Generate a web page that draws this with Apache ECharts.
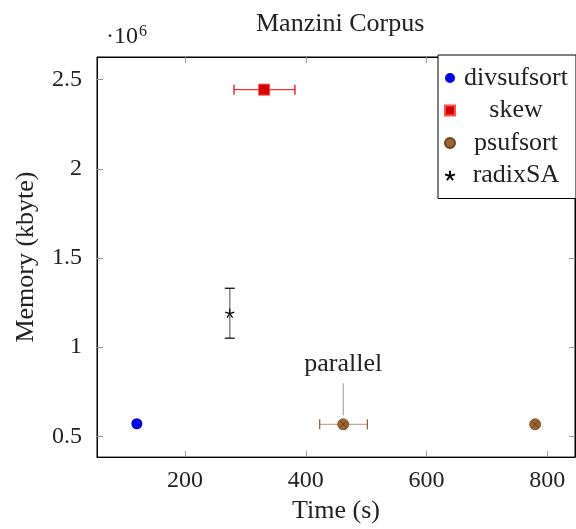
<!DOCTYPE html>
<html>
<head>
<meta charset="utf-8">
<script src="https://cdn.jsdelivr.net/npm/echarts@6/dist/echarts.min.js"></script>
<style type="text/css">
html, body { margin: 0; padding: 0; background: #fff; }
#chart { width: 576px; height: 529px; }
</style>
</head>
<body>
<div id="chart"></div>
<script>
// values (time in s, memory in kbyte)
var legendNames = ['divsufsort', 'skew', 'psufsort', 'radixSA'];
var xTicks = [200, 400, 600, 800];
var yTicks = [500000, 1000000, 1500000, 2000000, 2500000];

var divsufsortData = [[120, 570000]];
var skewData = [[331, 2444000]];
var psufsortData = [[462, 567000], [780, 567000]];
var radixSAData = [[274, 1190000]];

// [x, y, xLow, xHigh, yLow, yHigh]
var skewErr = [[331, 2444000, 281, 382, 2444000, 2444000]];
var psufsortErr = [[462, 567000, 423, 502, 567000, 567000]];
var radixSAErr = [[274, 1190000, 274, 274, 1050000, 1330000]];

var notes = [[462, 567000, 'parallel']];

var font = 'Liberation Serif';
var starPath = 'path://M0,-10L0,0M9.5,-3.1L0,0M5.9,8.1L0,0M-5.9,8.1L0,0M-9.5,-3.1L0,0';

function errSeries(name, data, barColor, capColor) {
    return {
        name: name,
        type: 'custom',
        z: 1,
        silent: true,
        data: data,
        renderItem: function(params, api) {
            var y = api.value(1);
            var kids = [];
            var cap = 5;
            if (api.value(3) > api.value(2)) {
                var a = api.coord([api.value(2), y]);
                var b = api.coord([api.value(3), y]);
                kids.push({ type: 'line', shape: { x1: a[0], y1: a[1], x2: b[0], y2: b[1] }, style: { stroke: barColor, lineWidth: 1.2 } });
                kids.push({ type: 'line', shape: { x1: a[0], y1: a[1] - cap, x2: a[0], y2: a[1] + cap }, style: { stroke: capColor, lineWidth: 1.2 } });
                kids.push({ type: 'line', shape: { x1: b[0], y1: b[1] - cap, x2: b[0], y2: b[1] + cap }, style: { stroke: capColor, lineWidth: 1.2 } });
            }
            if (api.value(5) > api.value(4)) {
                var x = api.value(0);
                var c = api.coord([x, api.value(4)]);
                var d = api.coord([x, api.value(5)]);
                kids.push({ type: 'line', shape: { x1: c[0], y1: c[1], x2: d[0], y2: d[1] }, style: { stroke: barColor, lineWidth: 1.5 } });
                kids.push({ type: 'line', shape: { x1: c[0] - cap, y1: c[1], x2: c[0] + cap, y2: c[1] }, style: { stroke: capColor, lineWidth: 1.2 } });
                kids.push({ type: 'line', shape: { x1: d[0] - cap, y1: d[1], x2: d[0] + cap, y2: d[1] }, style: { stroke: capColor, lineWidth: 1.2 } });
            }
            return { type: 'group', children: kids };
        }
    };
}

var chart = echarts.init(document.getElementById('chart'), null, { renderer: 'canvas' });

var tickStyle = { show: true, inside: true, length: 6, lineStyle: { color: '#9a9a9a', width: 1 } };

var option = {
    backgroundColor: '#fff',
    animation: false,
    textStyle: { fontFamily: font },
    title: {
        text: 'Manzini Corpus',
        left: 251,
        top: 6,
        textStyle: { fontFamily: font, fontWeight: 'normal', fontSize: 26, color: '#222' }
    },
    graphic: [{
        type: 'text',
        left: 106,
        top: 24,
        style: {
            text: '·10{s|6}',
            font: '24px "Liberation Serif"',
            fill: '#222',
            rich: { s: { fontSize: 16, fontFamily: font, verticalAlign: 'top', padding: [0, 0, 10, 1] } }
        }
    }],
    legend: {
        data: legendNames,
        orient: 'vertical',
        left: 438,
        top: 55,
        padding: [10, 4, 10, 6],
        itemGap: 6.5,
        itemWidth: 10,
        itemHeight: 10,
        borderColor: '#000',
        borderWidth: 1,
        backgroundColor: '#fff',
        borderRadius: 0,
        formatter: '{t|{name}}',
        textStyle: {
            rich: { t: { width: 112, align: 'center', fontFamily: font, fontSize: 26, lineHeight: 24, color: '#222' } }
        }
    },
    grid: {
        left: 97,
        right: 1,
        top: 57,
        bottom: 71,
        show: true,
        borderColor: '#000',
        borderWidth: 1
    },
    xAxis: [{
        type: 'value',
        min: 54,
        max: 846,
        name: 'Time (s)',
        nameLocation: 'middle',
        nameGap: 38,
        nameTextStyle: { fontFamily: font, fontSize: 26, color: '#222' },
        axisLine: { show: true, lineStyle: { color: '#000' } },
        axisTick: Object.assign({ customValues: xTicks }, tickStyle),
        axisLabel: { customValues: xTicks, margin: 12, fontFamily: font, fontSize: 24, color: '#222' },
        splitLine: { show: false }
    }, {
        type: 'value',
        position: 'top',
        min: 54,
        max: 846,
        axisLine: { show: true, lineStyle: { color: '#000' } },
        axisTick: Object.assign({ customValues: xTicks }, tickStyle),
        axisLabel: { show: false },
        splitLine: { show: false }
    }],
    yAxis: [{
        type: 'value',
        min: 383000,
        max: 2627000,
        name: 'Memory (kbyte)',
        nameLocation: 'middle',
        nameGap: 58,
        nameTextStyle: { fontFamily: font, fontSize: 26, color: '#222' },
        axisLine: { show: true, lineStyle: { color: '#000' } },
        axisTick: Object.assign({ customValues: yTicks }, tickStyle),
        axisLabel: {
            customValues: yTicks,
            margin: 15,
            fontFamily: font,
            fontSize: 24,
            color: '#222',
            formatter: function(v) { return String(v / 1000000); }
        },
        splitLine: { show: false }
    }, {
        type: 'value',
        position: 'right',
        min: 383000,
        max: 2627000,
        axisLine: { show: true, lineStyle: { color: '#000' } },
        axisTick: Object.assign({ customValues: yTicks }, tickStyle),
        axisLabel: { show: false },
        splitLine: { show: false }
    }],
    series: [
        errSeries('skew-err', skewErr, '#ff3030', '#e00000'),
        errSeries('psufsort-err', psufsortErr, '#c8a888', '#8a5a2c'),
        errSeries('radixSA-err', radixSAErr, '#888888', '#000000'),
        {
            name: 'divsufsort',
            type: 'scatter',
            z: 3,
            symbol: 'circle',
            symbolSize: 11,
            itemStyle: { color: '#0000e0', opacity: 1 },
            data: divsufsortData
        },
        {
            name: 'skew',
            type: 'scatter',
            z: 3,
            symbol: 'rect',
            symbolSize: 11,
            itemStyle: { color: '#d40000', borderColor: '#ff5050', borderWidth: 1, opacity: 1 },
            data: skewData
        },
        {
            name: 'psufsort',
            type: 'scatter',
            z: 3,
            symbol: 'circle',
            symbolSize: 11,
            itemStyle: { color: '#9c6430', borderColor: '#6e4420', borderWidth: 0.8, opacity: 1 },
            data: psufsortData
        },
        {
            // the small x drawn inside each psufsort circle
            name: 'psufsort-x',
            type: 'custom',
            z: 4,
            silent: true,
            data: psufsortData,
            renderItem: function(params, api) {
                var p = api.coord([api.value(0), api.value(1)]);
                var r = 3.2;
                var st = { stroke: '#5a3412', lineWidth: 0.8 };
                return {
                    type: 'group',
                    children: [
                        { type: 'line', shape: { x1: p[0] - r, y1: p[1] - r, x2: p[0] + r, y2: p[1] + r }, style: st },
                        { type: 'line', shape: { x1: p[0] - r, y1: p[1] + r, x2: p[0] + r, y2: p[1] - r }, style: st }
                    ]
                };
            }
        },
        {
            name: 'radixSA',
            type: 'scatter',
            z: 3,
            symbol: starPath,
            symbolSize: 9,
            itemStyle: { color: 'transparent', borderColor: '#000', borderWidth: 1.2, opacity: 1 },
            data: radixSAData
        },
        {
            name: 'note',
            type: 'custom',
            z: 2,
            silent: true,
            data: notes,
            renderItem: function(params, api) {
                var p = api.coord([api.value(0), api.value(1)]);
                return {
                    type: 'group',
                    children: [{
                        type: 'line',
                        shape: { x1: p[0], y1: p[1] - 9, x2: p[0], y2: p[1] - 41 },
                        style: { stroke: '#999', lineWidth: 1 }
                    }, {
                        type: 'text',
                        style: {
                            text: api.value(2),
                            x: p[0],
                            y: p[1] - 47,
                            align: 'center',
                            verticalAlign: 'bottom',
                            fontFamily: font,
                            fontSize: 26,
                            fill: '#222'
                        }
                    }]
                };
            }
        }
    ]
};
chart.setOption(option);
</script>
</body>
</html>
